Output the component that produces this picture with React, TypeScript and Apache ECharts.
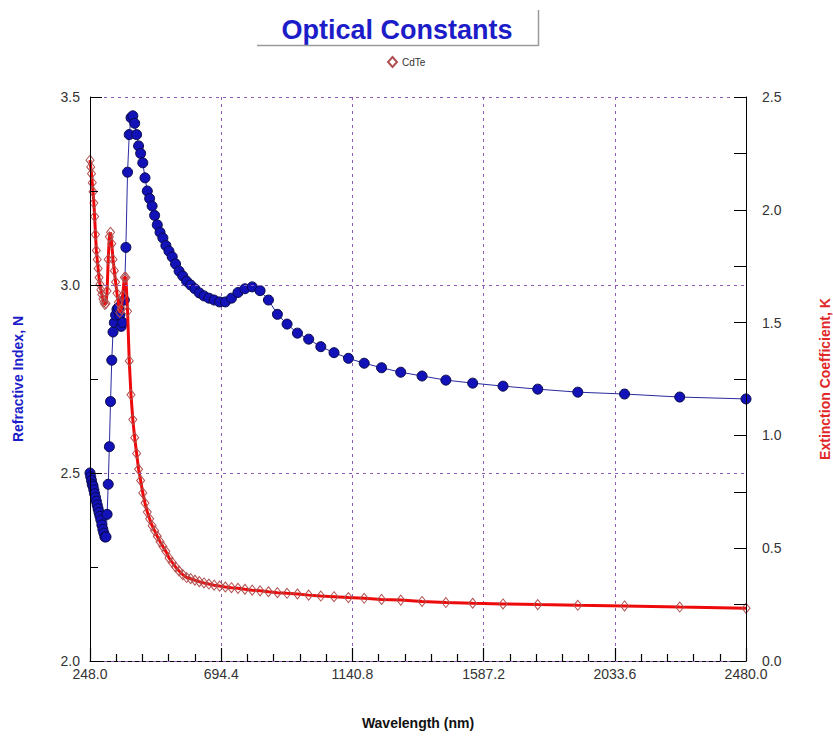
import React, { useEffect, useRef } from "react";
import * as echarts from "echarts";

const wavelengths = [
  248.0, 250.5, 253.1, 255.7, 258.3, 261.1, 263.8, 266.7, 269.6, 272.5,
  275.6, 278.7, 281.8, 285.1, 288.4, 291.8, 295.2, 298.8, 302.4, 306.2,
  310.0, 313.9, 317.9, 322.1, 326.3, 330.7, 335.1, 339.7, 344.4, 349.3,
  354.3, 359.4, 364.7, 370.1, 375.8, 381.5, 387.5, 393.7, 400.0, 406.6,
  413.3, 420.3, 427.6, 435.1, 442.9, 450.9, 459.3, 467.9, 476.9, 486.3,
  496.0, 506.1, 516.7, 527.7, 539.1, 551.1, 563.6, 576.7, 590.5, 604.9,
  620.0, 635.9, 652.6, 670.3, 688.9, 708.6, 729.4, 751.5, 775.0, 800.0,
  826.7, 855.2, 885.7, 918.5, 953.8, 992.0, 1033.3, 1078.3, 1127.3, 1181.0,
  1240.0, 1305.3, 1377.8, 1458.8, 1550.0, 1653.3, 1771.4, 1907.7, 2066.7, 2254.5,
  2480.0,
];

const refractiveN = [
  2.5, 2.49, 2.48, 2.47, 2.465, 2.455, 2.445, 2.435, 2.425, 2.415,
  2.405, 2.395, 2.385, 2.375, 2.362, 2.35, 2.34, 2.33, 2.33, 2.39,
  2.47, 2.57, 2.69, 2.8, 2.875, 2.9, 2.92, 2.935, 2.94, 2.92,
  2.89, 2.9, 2.96, 3.1, 3.3, 3.4, 3.445, 3.45, 3.43, 3.4,
  3.37, 3.35, 3.325, 3.285, 3.25, 3.23, 3.21, 3.185, 3.16, 3.14,
  3.125, 3.105, 3.09, 3.075, 3.056, 3.037, 3.024, 3.01, 3.0, 2.99,
  2.979, 2.971, 2.965, 2.96, 2.955, 2.955, 2.965, 2.98, 2.99, 2.995,
  2.985, 2.96, 2.922, 2.896, 2.872, 2.856, 2.836, 2.82, 2.805, 2.792,
  2.78, 2.768, 2.758, 2.747, 2.739, 2.731, 2.723, 2.715, 2.71, 2.702,
  2.697,
];

const extinctionK = [
  2.22, 2.19, 2.16, 2.12, 2.08, 2.03, 1.97, 1.89, 1.82, 1.78,
  1.74, 1.7, 1.67, 1.645, 1.625, 1.605, 1.59, 1.58, 1.585, 1.64,
  1.78, 1.88, 1.9, 1.85, 1.78, 1.73, 1.68, 1.63, 1.59, 1.545,
  1.56, 1.62, 1.7, 1.7, 1.55, 1.33, 1.18, 1.07, 0.99, 0.92,
  0.85, 0.8, 0.745, 0.7, 0.66, 0.63, 0.6, 0.577, 0.553, 0.529,
  0.508, 0.486, 0.457, 0.437, 0.417, 0.399, 0.383, 0.37, 0.365, 0.358,
  0.352, 0.346, 0.341, 0.336, 0.332, 0.328, 0.325, 0.322, 0.318, 0.314,
  0.311, 0.307, 0.303, 0.3, 0.297, 0.292, 0.288, 0.285, 0.281, 0.278,
  0.273, 0.27, 0.264, 0.259, 0.256, 0.253, 0.25, 0.247, 0.244, 0.239,
  0.234,
];

const FONT = "'Liberation Sans', Arial, sans-serif";

export default function App() {
  const ref = useRef<HTMLDivElement>(null);
  useEffect(() => {
    if (!ref.current) return;
    const chart = echarts.init(ref.current, undefined, { renderer: "svg" });
    const nData = wavelengths.map((w, i) => [w, refractiveN[i]]);
    const kData = wavelengths.map((w, i) => [w, extinctionK[i]]);
    const gridLine = { show: true, lineStyle: { color: "#8d5db8", type: [3, 4] as any, width: 1 } };
    chart.setOption({
      animation: false,
      backgroundColor: "#ffffff",
      textStyle: { fontFamily: FONT },
      grid: { left: 90, right: 87, top: 97, bottom: 77, containLabel: false, outerBoundsMode: "none" },
      graphic: [
        {
          type: "text",
          x: 397,
          y: 30,
          style: {
            text: "Optical Constants",
            font: `bold 27px ${FONT}`,
            fill: "#1c1cc8",
            textAlign: "center",
            textVerticalAlign: "middle",
          },
        },
        { type: "line", shape: { x1: 257, y1: 45.5, x2: 538, y2: 45.5 }, style: { stroke: "#9a9a9a", lineWidth: 1.5 } },
        { type: "line", shape: { x1: 538.5, y1: 10, x2: 538.5, y2: 46 }, style: { stroke: "#9a9a9a", lineWidth: 1.5 } },
      ],
      legend: {
        data: ["CdTe"],
        left: 382,
        top: 51,
        icon: "diamond",
        itemWidth: 9,
        itemHeight: 10,
        itemGap: 4,
        textStyle: { fontSize: 10, color: "#333", fontFamily: FONT },
      },
      xAxis: {
        type: "value",
        position: "bottom",
        min: 248,
        max: 2480,
        interval: 446.4,
        name: "Wavelength (nm)",
        nameLocation: "middle",
        nameGap: 55,
        nameTextStyle: { fontWeight: "bold", fontSize: 14, color: "#111", fontFamily: FONT },
        axisLine: { show: true, onZero: false, lineStyle: { color: "#000", width: 1 } },
        axisTick: { show: true, inside: true, length: 13, lineStyle: { color: "#000", width: 1.2 } },
        minorTick: { show: true, splitNumber: 5, length: 7, lineStyle: { color: "#000", width: 1.2 } },
        axisLabel: {
          fontSize: 14,
          color: "#333",
          margin: 6,
          fontFamily: FONT,
          formatter: (v: number) => v.toFixed(1),
        },
        splitLine: gridLine,
      },
      yAxis: [
        {
          type: "value",
          min: 2.0,
          max: 3.5,
          interval: 0.5,
          position: "left",
          name: "Refractive Index, N",
          nameLocation: "middle",
          nameGap: 65,
          nameRotate: 90,
          nameTextStyle: { fontWeight: "bold", fontSize: 14, color: "#1c1cc8", fontFamily: FONT },
          axisLine: { show: true, onZero: false, lineStyle: { color: "#000", width: 1 } },
          axisTick: { show: true, inside: true, length: 12, lineStyle: { color: "#000" } },
          minorTick: { show: true, splitNumber: 2, length: 8, lineStyle: { color: "#000" } },
          axisLabel: {
            fontSize: 14,
            color: "#333",
            margin: 10,
            fontFamily: FONT,
            formatter: (v: number) => v.toFixed(1),
          },
          splitLine: gridLine,
          z: 5,
        },
        {
          type: "value",
          min: 0,
          max: 2.5,
          interval: 0.5,
          position: "right",
          name: "Extinction Coefficient, K",
          nameLocation: "middle",
          nameGap: 72,
          nameRotate: 90,
          nameTextStyle: { fontWeight: "bold", fontSize: 14, color: "#e02828", fontFamily: FONT },
          axisLine: { show: true, onZero: false, lineStyle: { color: "#000", width: 1 } },
          axisTick: { show: true, inside: true, length: 12, lineStyle: { color: "#000" } },
          minorTick: { show: true, splitNumber: 2, length: 12, lineStyle: { color: "#000" } },
          axisLabel: {
            fontSize: 14,
            color: "#333",
            margin: 16,
            fontFamily: FONT,
            formatter: (v: number) => v.toFixed(1),
          },
          splitLine: { show: false },
          z: 5,
        },
      ],
      series: [
        {
          name: "N",
          type: "line",
          yAxisIndex: 0,
          data: nData,
          symbol: "circle",
          symbolSize: 10,
          showAllSymbol: true,
          lineStyle: { color: "#2a2aa0", width: 1 },
          itemStyle: { color: "#1212b8", borderColor: "#08084a", borderWidth: 1 },
          z: 3,
        },
        {
          name: "CdTe",
          type: "line",
          yAxisIndex: 1,
          data: kData,
          symbol: "diamond",
          symbolSize: [8, 10],
          showAllSymbol: true,
          lineStyle: { color: "#ee0a0a", width: 3 },
          itemStyle: { color: "rgba(255,255,255,0)", borderColor: "#b05050", borderWidth: 1 },
          z: 4,
        },
      ],
    });
    return () => chart.dispose();
  }, []);
  return <div ref={ref} style={{ width: 833, height: 738, position: "absolute", left: 0, top: 0 }} />;
}
